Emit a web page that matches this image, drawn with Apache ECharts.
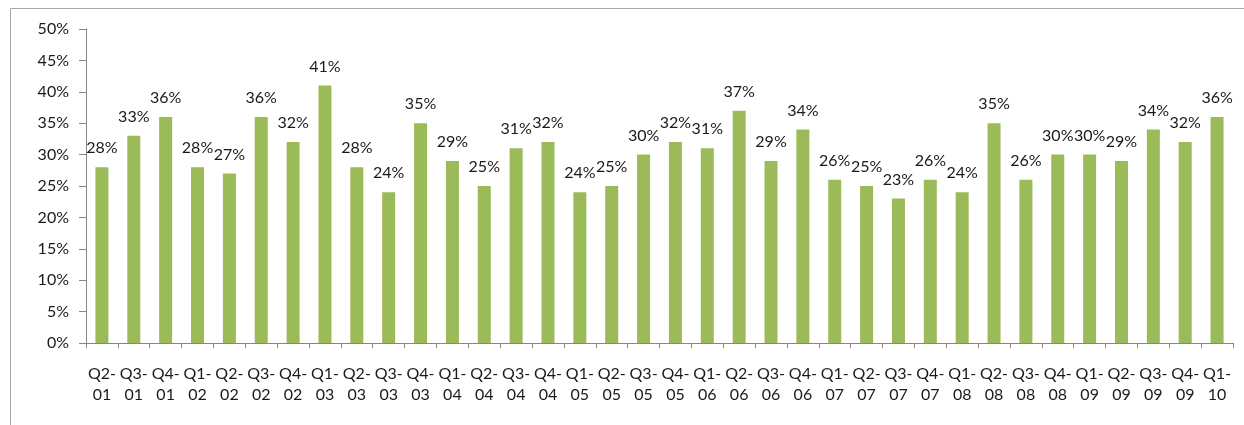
<!DOCTYPE html>
<html>
<head>
<meta charset="utf-8">
<script src="https://cdn.jsdelivr.net/npm/echarts@6/dist/echarts.min.js"></script>
<style>
  html, body { margin: 0; padding: 0; background: #fff; }
  #chart { width: 1244px; height: 425px; }
</style>
</head>
<body>
<div id="chart"></div>
<script>
  // quarters, Q2-01 .. Q1-10
  var quarters = ['Q2-01', 'Q3-01', 'Q4-01', 'Q1-02', 'Q2-02', 'Q3-02', 'Q4-02', 'Q1-03', 'Q2-03', 'Q3-03',
    'Q4-03', 'Q1-04', 'Q2-04', 'Q3-04', 'Q4-04', 'Q1-05', 'Q2-05', 'Q3-05', 'Q4-05', 'Q1-06',
    'Q2-06', 'Q3-06', 'Q4-06', 'Q1-07', 'Q2-07', 'Q3-07', 'Q4-07', 'Q1-08', 'Q2-08', 'Q3-08',
    'Q4-08', 'Q1-09', 'Q2-09', 'Q3-09', 'Q4-09', 'Q1-10'];
  var shares = [28, 33, 36, 28, 27, 36, 32, 41, 28, 24,
    35, 29, 25, 31, 32, 24, 25, 30, 32, 31,
    37, 29, 34, 26, 25, 23, 26, 24, 35, 26,
    30, 30, 29, 34, 32, 36];
  var yTicks = [0, 5, 10, 15, 20, 25, 30, 35, 40, 45, 50];

  var font = 'Lato';
  var chart = echarts.init(document.getElementById('chart'));
  chart.setOption({
    animation: false,
    graphic: [{
      type: 'rect',
      shape: { x: 10.5, y: 8.5, width: 1240, height: 420 },
      style: { fill: 'none', stroke: '#a6a6a6', lineWidth: 1 }
    }],
    grid: { left: 86, right: 11, top: 29, bottom: 82 },
    xAxis: {
      type: 'category',
      data: quarters.map(function (q) { return q.replace('-', '-\n'); }),
      axisLine: { lineStyle: { color: '#868686' } },
      axisTick: { show: true, length: 5, lineStyle: { color: '#868686' } },
      axisLabel: {
        interval: 0, margin: 20, color: '#1a1a1a', fontFamily: font, fontSize: 16, lineHeight: 21
      }
    },
    yAxis: {
      type: 'value',
      min: yTicks[0],
      max: yTicks[yTicks.length - 1],
      interval: 5,
      splitLine: { show: false },
      axisLine: { show: true, lineStyle: { color: '#868686' } },
      axisTick: { show: true, length: 7, lineStyle: { color: '#868686' } },
      axisLabel: {
        margin: 17, color: '#1a1a1a', fontFamily: font, fontSize: 16,
        formatter: function (v) { return v + '%'; }
      }
    },
    series: [{
      type: 'bar',
      data: shares,
      barWidth: 13,
      itemStyle: { color: '#9bbb59' },
      label: {
        show: true, position: 'top', distance: 11, color: '#1a1a1a', fontFamily: font, fontSize: 16,
        formatter: function (p) { return p.value + '%'; }
      }
    }]
  });
</script>
</body>
</html>
